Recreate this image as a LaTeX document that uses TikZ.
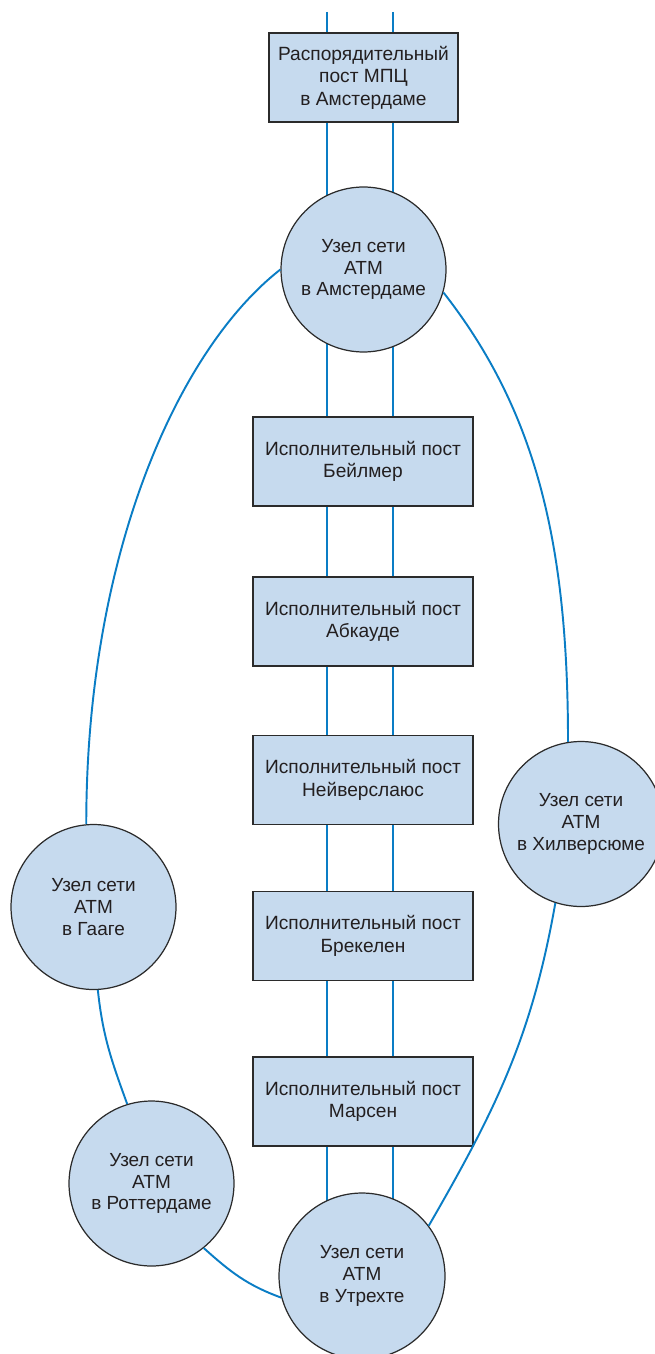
\documentclass[tikz,border=0pt]{standalone}
\usepackage{fontspec}
\setmainfont{Liberation Sans}
\usepackage{tikz}
\usetikzlibrary{positioning, backgrounds}
\definecolor{netBlue}{HTML}{0A7DC5}
\definecolor{boxFill}{HTML}{C6DAEE}
\definecolor{edgeGray}{HTML}{2B2B2B}
\definecolor{textGray}{HTML}{231F20}

\begin{document}
\begin{tikzpicture}[
  x=0.02cm, y=-0.02cm,
  post/.style={draw=edgeGray, fill=boxFill, line width=0.8pt,
               minimum width=4.4cm, minimum height=1.78cm,
               font=\fontsize{10.9}{12.8}\selectfont, text=textGray, align=center},
  atm/.style={circle, draw=edgeGray, fill=boxFill, line width=0.7pt, inner sep=-1cm,
              minimum size=3.3cm,
              font=\fontsize{10.8}{12.3}\selectfont, text=textGray, align=center},
  wire/.style={netBlue, line width=1.1pt}
]
\useasboundingbox (0,0) rectangle (654,1354);

\node[post, minimum width=3.78cm] (disp) at (363.5,77.5) {Распорядительный\\пост МПЦ\\в Амстердаме};
\node[atm] (ams) at (363.5,269.5) {Узел сети\\ATM\\в Амстердаме};
\node[post] (beil) at (363,461.5) {Исполнительный пост\\Бейлмер};
\node[post] (abc) at (363,621.5) {Исполнительный пост\\Абкауде};
\node[post] (neiv) at (363,780) {Исполнительный пост\\Нейверслаюс};
\node[post] (brek) at (363,936) {Исполнительный пост\\Брекелен};
\node[post] (mars) at (363,1101.5) {Исполнительный пост\\Марсен};
\node[atm, minimum size=3.32cm] (utr) at (362,1276) {Узел сети\\ATM\\в Утрехте};
\node[atm] (haag) at (93.5,907) {Узел сети\\ATM\\в Гааге};
\node[atm] (rot) at (151.5,1183.5) {Узел сети\\ATM\\в Роттердаме};
\node[atm] (hilv) at (581,824) {Узел сети\\ATM\\в Хилверсюме};

\begin{scope}[on background layer]
  \coordinate (topL) at (327,12);
  \coordinate (topR) at (393,12);
  \draw[wire] (topL) -- (topL |- disp.center) (topR) -- (topR |- disp.center);
  \foreach \a/\b in {disp/ams, ams/beil, beil/abc, abc/neiv, neiv/brek, brek/mars, mars/utr}
    \draw[wire] (topL |- \a.center) -- (topL |- \b.center)
                (topR |- \a.center) -- (topR |- \b.center);
\end{scope}

\draw[wire] (ams.west) to[out=218, in=90, out distance=2.6cm, in distance=5.4cm] (haag.95);
\draw[wire] (ams.-16) to[out=-52, in=90, out distance=3cm, in distance=4cm] (hilv.99);
\draw[wire] (haag.-87) to[out=-84, in=110] (rot.107);
\draw[wire] (rot.-51) to[out=-42, in=160] (utr.195);
\draw[wire] (hilv.252) to[out=260, in=60] (utr.37);
\end{tikzpicture}
\end{document}
